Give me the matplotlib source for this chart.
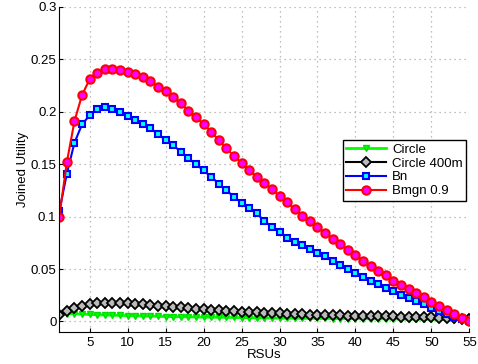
import matplotlib.pyplot as plt

plt.rcParams['font.family'] = ['Liberation Sans', 'DejaVu Sans']

# --- data ---
rsus = list(range(1, 56))

circle = [0.0080, 0.0076, 0.0073, 0.0070, 0.0067, 0.0064, 0.0062, 0.0060, 0.0058, 0.0056,
          0.0054, 0.0052, 0.0050, 0.0049, 0.0047, 0.0046, 0.0045, 0.0044, 0.0043, 0.0042,
          0.0041, 0.0040, 0.0039, 0.0038, 0.0037, 0.0036, 0.0035, 0.0034, 0.0033, 0.0032,
          0.0031, 0.0031, 0.0030, 0.0030, 0.0029, 0.0029, 0.0028, 0.0028, 0.0027, 0.0027,
          0.0026, 0.0026, 0.0025, 0.0025, 0.0024, 0.0024, 0.0023, 0.0022, 0.0022, 0.0021,
          0.0020, 0.0019, 0.0018, 0.0017, 0.0016]

circle400 = [0.0060, 0.0100, 0.0130, 0.0150, 0.0165, 0.0173, 0.0178, 0.0180, 0.0180, 0.0177,
             0.0170, 0.0163, 0.0157, 0.0150, 0.0145, 0.0140, 0.0134, 0.0128, 0.0122, 0.0117,
             0.0112, 0.0107, 0.0102, 0.0097, 0.0093, 0.0090, 0.0086, 0.0083, 0.0080, 0.0077,
             0.0074, 0.0071, 0.0069, 0.0066, 0.0064, 0.0062, 0.0060, 0.0058, 0.0056, 0.0054,
             0.0053, 0.0052, 0.0050, 0.0049, 0.0048, 0.0046, 0.0045, 0.0043, 0.0041, 0.0039,
             0.0036, 0.0033, 0.0030, 0.0026, 0.0022]

bn = [0.105, 0.141, 0.1705, 0.188, 0.1966, 0.2027, 0.2042, 0.2027, 0.1994, 0.1956,
      0.1925, 0.1886, 0.1845, 0.1784, 0.1733, 0.168, 0.162, 0.1555, 0.150, 0.144,
      0.138, 0.1315, 0.125, 0.119, 0.113, 0.108, 0.103, 0.096, 0.090, 0.085,
      0.080, 0.076, 0.0725, 0.069, 0.0655, 0.062, 0.058, 0.054, 0.050, 0.046,
      0.0422, 0.039, 0.0358, 0.032, 0.029, 0.0256, 0.0224, 0.0193, 0.0164, 0.0129,
      0.0103, 0.0072, 0.0043, 0.002, 0.0005]

bmgn = [0.100, 0.152, 0.191, 0.216, 0.231, 0.237, 0.241, 0.241, 0.240, 0.238,
        0.236, 0.2335, 0.229, 0.224, 0.2195, 0.214, 0.208, 0.201, 0.195, 0.188,
        0.181, 0.173, 0.165, 0.158, 0.151, 0.144, 0.138, 0.132, 0.126, 0.1195,
        0.1135, 0.107, 0.101, 0.0955, 0.090, 0.0845, 0.079, 0.074, 0.068, 0.0635,
        0.058, 0.053, 0.0485, 0.044, 0.039, 0.035, 0.031, 0.027, 0.023, 0.019,
        0.015, 0.011, 0.007, 0.0033, 0.0005]

xticks = [5, 10, 15, 20, 25, 30, 35, 40, 45, 50, 55]
yticks = [0, 0.05, 0.1, 0.15, 0.2, 0.25, 0.3]
ytick_labels = ['0', '0.05', '0.1', '0.15', '0.2', '0.25', '0.3']

# --- plot ---
fig = plt.figure(figsize=(4.78, 3.64), dpi=100)
ax = fig.add_axes([0.124, 0.088, 0.858, 0.893])

ax.plot(rsus, circle, color='#00ff00', lw=2, marker='v', ms=5,
        mfc='#00ff00', mec='#00dd00', label='Circle')
ax.plot(rsus, circle400, color='black', lw=1.5, marker='D', ms=5,
        mfc='#bbbbbb', mec='black', mew=1.3, label='Circle 400m')
ax.plot(rsus, bn, color='#0000ff', lw=1.5, marker='s', ms=4.5,
        mfc='#00ffff', mec='#0000ff', mew=1.5, label='Bn')
ax.plot(rsus, bmgn, color='#ff0000', lw=1.5, marker='o', ms=6,
        mfc='#ff00ff', mec='#ff0000', mew=1.5, label='Bmgn 0.9')

ax.set_xlim(1, 55)
ax.set_ylim(-0.01, 0.3)
ax.set_xticks(xticks)
ax.set_yticks(yticks)
ax.set_yticklabels(ytick_labels)
ax.tick_params(direction='in', labelsize=9.5, length=3)
ax.tick_params(axis='y', pad=2)
ax.grid(True, linestyle=(0, (1, 3)), color='#aaaaaa', lw=0.9)
ax.spines['top'].set_visible(False)
ax.spines['right'].set_visible(False)

ax.set_xlabel('RSUs', fontsize=9.5, labelpad=0)
ax.set_ylabel('Joined Utility', fontsize=9.5, labelpad=1.5)

leg = ax.legend(loc='upper left', bbox_to_anchor=(0.675, 0.61), fontsize=9.5,
                frameon=True, fancybox=False, framealpha=1, edgecolor='black',
                borderpad=0.25, labelspacing=0.12, handlelength=3.0, handletextpad=0.5)
leg.get_frame().set_linewidth(1.0)

fig.savefig('out.png', dpi=100)
